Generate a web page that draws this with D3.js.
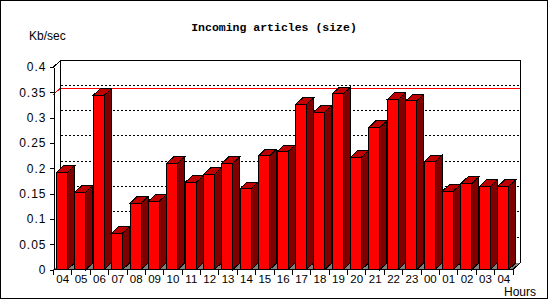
<!DOCTYPE html>
<html>
<head>
<meta charset="utf-8">
<script src="https://cdn.jsdelivr.net/npm/d3@7"></script>
<style>
  body { margin: 0; background: #fff; }
  svg text { font-family: "Liberation Sans", Arial, sans-serif; }
</style>
</head>
<body>
<div id="chart"></div>
<script>
// hours of the day, oldest first
var hours = ["04","05","06","07","08","09","10","11","12","13","14","15","16",
             "17","18","19","20","21","22","23","00","01","02","03","04"];
// incoming size, Kb/sec
var values = [0.192,0.153,0.344,0.072,0.131,0.135,0.210,0.172,0.188,0.210,0.160,0.225,0.233,
              0.326,0.311,0.347,0.222,0.281,0.336,0.333,0.213,0.155,0.170,0.164,0.164];
var yTicks = [0,0.05,0.1,0.15,0.2,0.25,0.3,0.35,0.4];
var yTickLabels = ["0","0.05","0.1","0.15","0.2","0.25","0.3","0.35","0.4"];

var width = 550, height = 300;
var dx = 7, dy = 6.5;   // depth of the 3d effect
// note: "top" is taken by window.top, so the plot box gets its own names
var plotL = 53.5, plotR = 513, plotB = 269.5, plotT = 67;

var svg = d3.select("#chart").append("svg")
    .attr("width", width)
    .attr("height", height)
    .attr("shape-rendering", "crispEdges");

// outer frame
svg.append("rect")
    .attr("x", 0.5).attr("y", 0.5)
    .attr("width", 547).attr("height", 298)
    .attr("fill", "#fff").attr("stroke", "#000");

var x = d3.scaleBand()
    .domain(d3.range(hours.length))
    .range([plotL, plotR]);

var y = d3.scaleLinear()
    .domain([0, 0.4])
    .range([plotB, plotT]);

var g = svg.append("g");

// back wall gridlines (dotted)
g.selectAll(".grid")
    .data(yTicks.filter(function(d){ return d > 0 && d < 0.4; }))
    .enter().append("line")
    .attr("x1", plotL + dx).attr("x2", plotR + dx)
    .attr("y1", function(d){ return Math.round(y(d) - dy) - 0.5; })
    .attr("y2", function(d){ return Math.round(y(d) - dy) - 0.5; })
    .attr("stroke", "#000")
    .attr("stroke-dasharray", "2,2");

// max line in red, on the back wall with a little diagonal to the axis
var maxV = d3.max(values);
var maxY = Math.round(y(maxV)) + 0.5;
g.append("path")
    .attr("d", "M" + plotL + "," + maxY + "L" + (plotL + dx) + "," + (maxY - dy) +
               "H" + (plotR + dx))
    .attr("fill", "none")
    .attr("stroke", "#ff0000");

// floor
g.append("path")
    .attr("d", "M" + plotL + "," + plotB + "L" + (plotL + dx) + "," + (plotB - dy) +
               "H" + (plotR + dx) + "L" + plotR + "," + plotB + "Z")
    .attr("fill", "#808080");

// walls outline
g.append("path")
    .attr("d", "M" + plotL + "," + plotT + "L" + (plotL + dx) + "," + (plotT - dy) +
               "H" + (plotR + dx) + "V" + (plotB - dy) + "L" + plotR + "," + plotB +
               "M" + (plotL + dx) + "," + (plotT - dy) + "V" + (plotB - dy))
    .attr("fill", "none")
    .attr("stroke", "#000");

// bars
var bw = 11, off = 3;
var bars = g.selectAll(".bar")
    .data(values)
    .enter().append("g")
    .attr("class", "bar");

bars.append("rect")
    .attr("x", function(d, i){ return x(i) + off; })
    .attr("y", function(d){ return y(d); })
    .attr("width", bw)
    .attr("height", function(d){ return plotB - y(d); })
    .attr("fill", "#ff0000")
    .attr("stroke", "#000");

bars.append("path")
    .attr("d", function(d, i){
        var x0 = x(i) + off + bw, yt = y(d);
        return "M" + x0 + "," + yt + "L" + (x0 + dx) + "," + (yt - dy) +
               "V" + (plotB - dy) + "L" + x0 + "," + plotB + "Z";
    })
    .attr("fill", "#800000")
    .attr("stroke", "#000");

bars.append("path")
    .attr("d", function(d, i){
        var x0 = x(i) + off, yt = y(d);
        return "M" + x0 + "," + yt + "L" + (x0 + dx) + "," + (yt - dy) +
               "H" + (x0 + bw + dx) + "L" + (x0 + bw) + "," + yt + "Z";
    })
    .attr("fill", "#c00000")
    .attr("stroke", "#000");

// y axis
var yAxis = g.append("g")
    .attr("transform", "translate(" + plotL + ",0)")
    .call(d3.axisLeft(y).tickValues(yTicks).tickSize(4).tickSizeOuter(0).tickPadding(3)
        .tickFormat(function(d, i){ return yTickLabels[i]; }));
yAxis.select(".domain").attr("stroke", "#000");
yAxis.selectAll("line").attr("stroke", "#000");
yAxis.selectAll("text")
    .attr("font-family", "Liberation Sans")
    .attr("font-size", 12)
    .attr("letter-spacing", 1)
    .attr("fill", "#000");

// x axis line and ticks
g.append("line")
    .attr("x1", plotL).attr("x2", plotR)
    .attr("y1", plotB).attr("y2", plotB)
    .attr("stroke", "#000");

g.selectAll(".xtick")
    .data(d3.range(hours.length + 1))
    .enter().append("line")
    .attr("x1", function(i){ return plotL + i * x.step(); })
    .attr("x2", function(i){ return plotL + i * x.step(); })
    .attr("y1", plotB).attr("y2", plotB + 5)
    .attr("stroke", "#000");

g.selectAll(".xlabel")
    .data(hours)
    .enter().append("text")
    .attr("x", function(d, i){ return x(i) + x.bandwidth() / 2; })
    .attr("y", 283)
    .attr("text-anchor", "middle")
    .attr("font-size", 11.5)
    .text(function(d){ return d; });

// titles
svg.append("text")
    .attr("x", 274).attr("y", 31)
    .attr("text-anchor", "middle")
    .style("font-family", "'Liberation Mono', monospace")
    .style("font-weight", "bold")
    .style("font-size", "11.5px")
    .text("Incoming articles (size)");

svg.append("text")
    .attr("x", 29).attr("y", 40)
    .attr("font-size", 12)
    .text("Kb/sec");

svg.append("text")
    .attr("x", 504).attr("y", 296)
    .attr("font-size", 12)
    .text("Hours");
</script>
</body>
</html>
